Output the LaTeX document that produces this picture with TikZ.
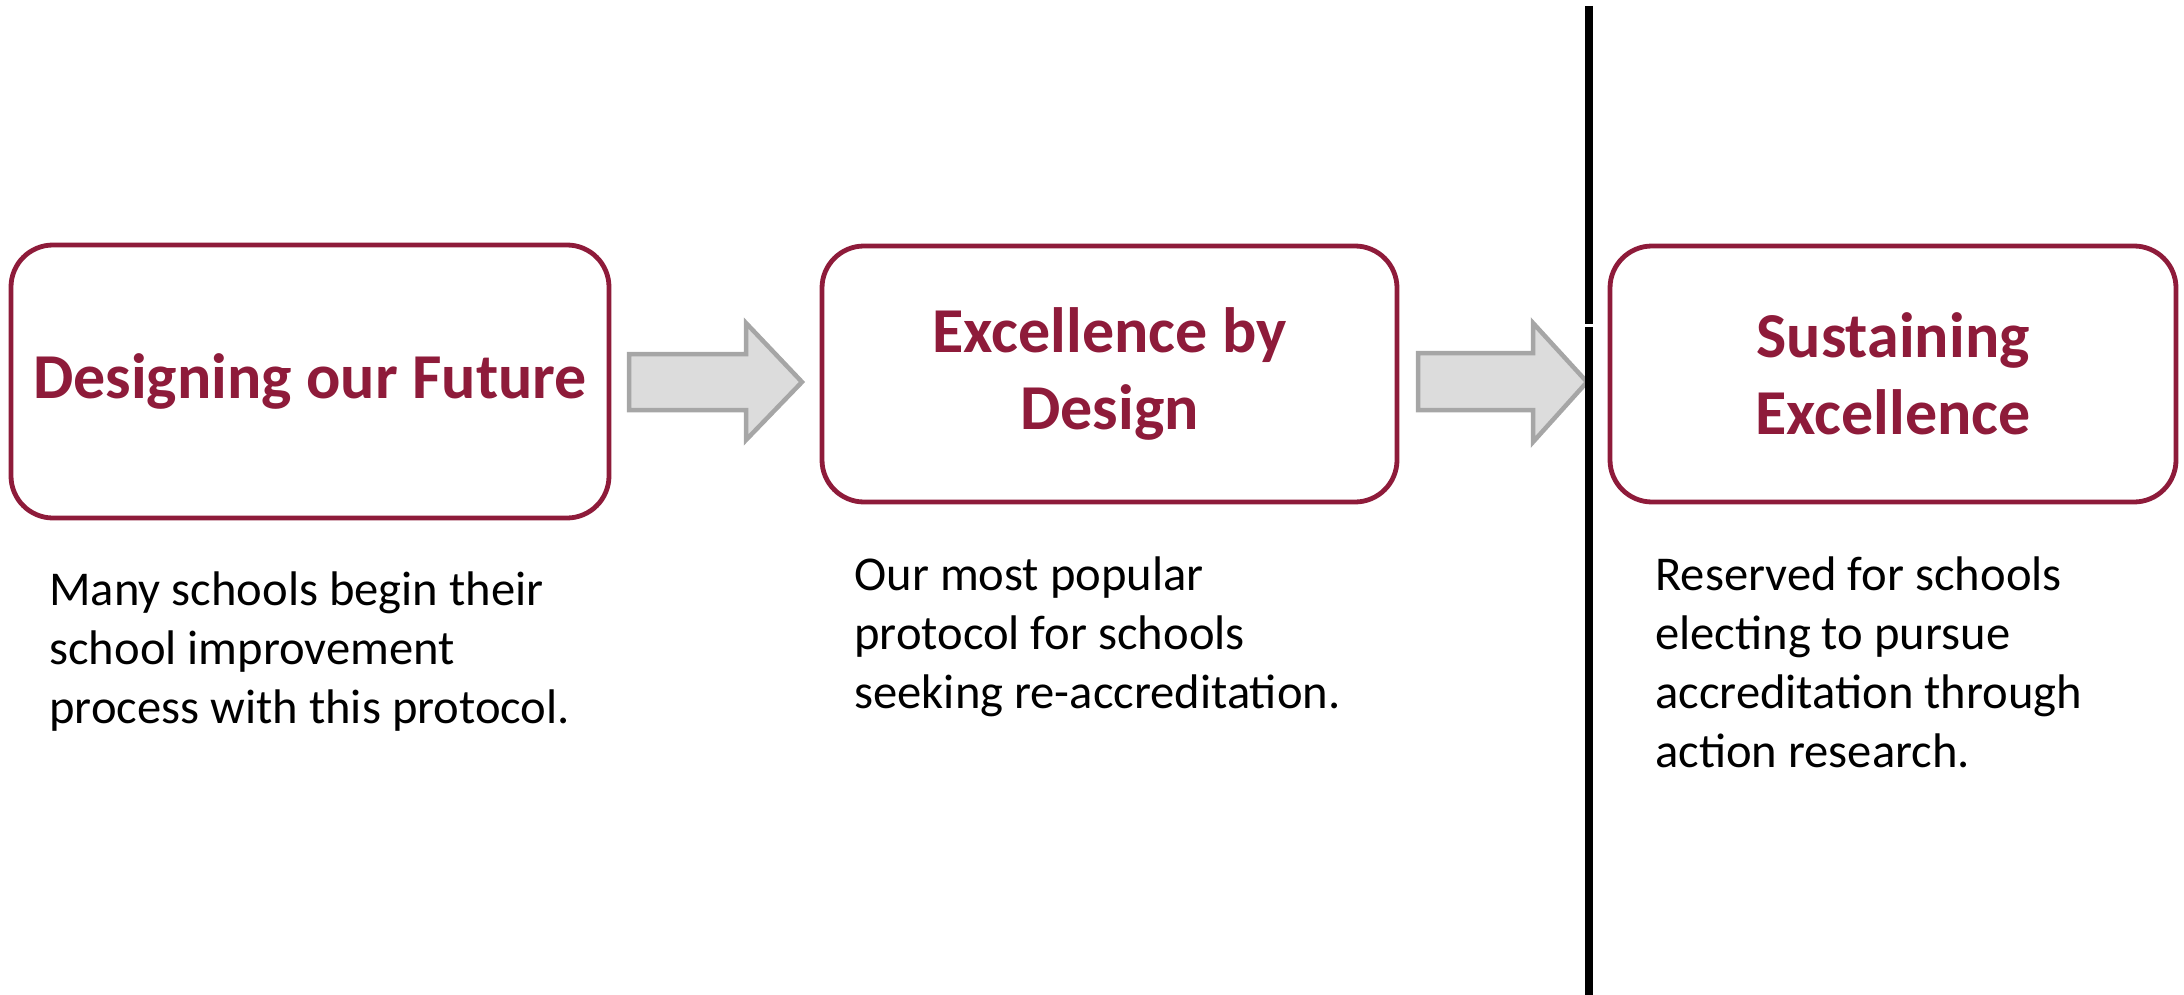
\documentclass[tikz,border=0pt]{standalone}
\usepackage{fontspec}
\setmainfont{Carlito}
\definecolor{maroon}{HTML}{8E1B3A}
\definecolor{arrowgray}{HTML}{A6A6A6}
\definecolor{arrowfill}{HTML}{DCDCDC}
\begin{document}
\begin{tikzpicture}[x=0.5pt,y=-0.5pt,
  box/.style={draw=maroon, line width=2.4pt, rounded corners=21pt, fill=white, align=center,
    text=maroon, font=\fontsize{32}{38.5}\selectfont\bfseries, inner sep=0pt},
  desc/.style={align=left, anchor=north west, inner sep=0pt, font=\fontsize{24.3}{29.6}\selectfont},
  blockarrow/.style={draw=arrowgray, fill=arrowfill, line width=2.25pt, line join=miter},
  divider/.style={draw=black, line width=4pt}]
\useasboundingbox (0,0) rectangle (2184,995);
\node[box, minimum width=299pt, minimum height=136.5pt] (b1) at (310,381.5) {Designing our Future};
\node[box, minimum width=287.5pt, minimum height=128pt] (b2) at (1109.5,374) {Excellence by\\Design};
\node[box, minimum width=283pt, minimum height=128pt] (b3) at (1893,374) {Sustaining\\Excellence};
\draw[blockarrow] (629,354) -- (746,354) -- (746,323) -- (802,382) -- (746,440) -- (746,410) -- (629,410) -- cycle;
\draw[blockarrow] (1418,353) -- (1533,353) -- (1533,323) -- (1587,382) -- (1533,442) -- (1533,410) -- (1418,410) -- cycle;
\coordinate (v1) at (1589,6);
\coordinate (v2) at (1589,324);
\coordinate (v3) at (1589,327);
\coordinate (v4) at (1589,995);
\draw[divider] (v1) -- (v2);
\draw[divider] (v3) -- (v4);
\node[desc] (t1) at (49,571) {Many schools begin their\\school improvement\\process with this protocol.};
\node[desc] (t2) at (854,556) {Our most popular\\protocol for schools\\seeking re-accreditation.};
\node[desc] (t3) at (1655,556) {Reserved for schools\\electing to pursue\\accreditation through\\action research.};
\end{tikzpicture}
\end{document}
